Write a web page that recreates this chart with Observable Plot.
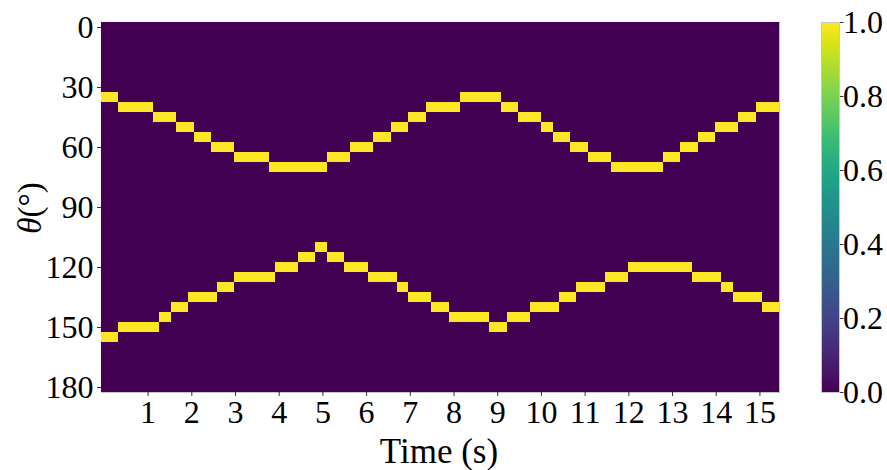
<!DOCTYPE html>
<html><head><meta charset="utf-8">
<script src="https://cdn.jsdelivr.net/npm/d3@7"></script>
<script src="https://cdn.jsdelivr.net/npm/@observablehq/plot@0.6"></script>
<style>
body{margin:0;background:#fff;}
#wrap{position:relative;width:887px;height:470px;overflow:hidden;}
#wrap svg{position:absolute;left:0;top:0;}
</style></head><body><div id="wrap"></div>
<script>
// ---- data ----
const dt = 0.1326;              // seconds per frame
const nFrames = 117;
const thetaBins = d3.range(0, 181, 5);   // 0..180 step 5 degrees
const upperTheta  = [35,40,45,50,55,60,65,70,65,60,55,50,45,40,35,40,45,50,55,60,65,70,65,60,55,50,45,40];
const upperFrames = [3,6,4,3,3,4,6,10,4,4,3,3,3,6,7,3,4,2,3,3,4,9,3,3,3,4,3,4];
const lowerTheta  = [155,150,145,140,135,130,125,120,115,110,115,120,125,130,135,140,145,150,145,140,135,130,125,120,125,130,135,140];
const lowerFrames = [3,7,2,3,5,3,7,4,3,2,3,4,5,2,4,3,7,3,4,5,3,5,4,11,5,2,5,3];
const xTicks = d3.range(1, 16);
const yTicks = [0, 30, 60, 90, 120, 150, 180];
const cbTicks = [0, 0.2, 0.4, 0.6, 0.8, 1.0];
const xLabel = "Time (s)";
const yLabelSymbol = "θ", yLabelUnit = "(°)";

// expand run-lengths into per-frame angle
function expand(th, fr) { const out = []; th.forEach((t, i) => { for (let k = 0; k < fr[i]; k++) out.push(t); }); return out; }
const upper = expand(upperTheta, upperFrames);
const lower = expand(lowerTheta, lowerFrames);

const cells = [];
for (let k = 0; k < nFrames; k++) {
  for (const th of thetaBins) {
    cells.push({x1: (k - 0.5) * dt, x2: (k + 0.5) * dt, y1: th - 2.5, y2: th + 2.5,
                v: (upper[k] === th || lower[k] === th) ? 1 : 0});
  }
}

const font = "'Liberation Serif', serif";
const W = 887, H = 470;
const FS = 32;

const main = Plot.plot({
  width: W, height: H,
  marginLeft: 101, marginRight: 108, marginTop: 22, marginBottom: 78,
  style: {fontFamily: font, fontSize: FS + "px", color: "#000", background: "transparent", overflow: "visible"},
  x: {domain: [-dt / 2, (nFrames - 0.5) * dt]},
  y: {domain: [-2.5, 182.5], reverse: true},
  color: {type: "linear", scheme: "viridis", domain: [0, 1]},
  marks: [
    Plot.frame({stroke: "#c8c8c8", strokeWidth: 1.2}),
    Plot.rect(cells, {x1: "x1", x2: "x2", y1: "y1", y2: "y2", fill: "v", shapeRendering: "crispEdges"}),
    Plot.axisX({ticks: xTicks, tickSize: 4, tickPadding: 4, label: null, fontSize: FS, fontFamily: font, strokeWidth: 0.8}),
    Plot.axisY({ticks: yTicks, tickSize: 4, tickPadding: 4, label: null, fontSize: FS, fontFamily: font, strokeWidth: 0.8})
  ]
});

const cbLevels = d3.range(256);
const cb = Plot.plot({
  width: W, height: H,
  marginLeft: 821, marginRight: 48, marginTop: 22, marginBottom: 78,
  style: {fontFamily: font, fontSize: FS + "px", color: "#000", background: "transparent"},
  x: {domain: [0, 1], axis: null},
  y: {domain: [0, 1]},
  color: {type: "linear", scheme: "viridis", domain: [0, 1]},
  marks: [
    Plot.rect(cbLevels, {x1: 0, x2: 1, y1: d => d / 256, y2: d => (d + 1) / 256, fill: d => (d + 0.5) / 256, shapeRendering: "crispEdges"}),
    Plot.frame({stroke: "#c8c8c8", strokeWidth: 1}),
    Plot.axisY({anchor: "right", ticks: cbTicks, tickFormat: d3.format(".1f"), tickSize: 3.5, tickPadding: 0, label: null, fontSize: FS, fontFamily: font, strokeWidth: 0.8})
  ]
});

const wrap = document.getElementById("wrap");
wrap.appendChild(main);
wrap.appendChild(cb);

// x-axis title
d3.select(main).append("text")
  .attr("x", 439).attr("y", 463)
  .attr("text-anchor", "middle")
  .attr("font-family", font).attr("font-size", 35).attr("fill", "#000")
  .text(xLabel);

// y-axis title: italic theta + upright (°)
const lab = d3.select(main).append("text")
  .attr("transform", "translate(30,208) rotate(-90)")
  .attr("text-anchor", "middle")
  .attr("dominant-baseline", "central")
  .attr("font-family", font)
  .attr("font-size", 33)
  .attr("fill", "#000");
lab.append("tspan").attr("font-style", "italic").text(yLabelSymbol);
lab.append("tspan").text(yLabelUnit);
</script>
</body></html>
